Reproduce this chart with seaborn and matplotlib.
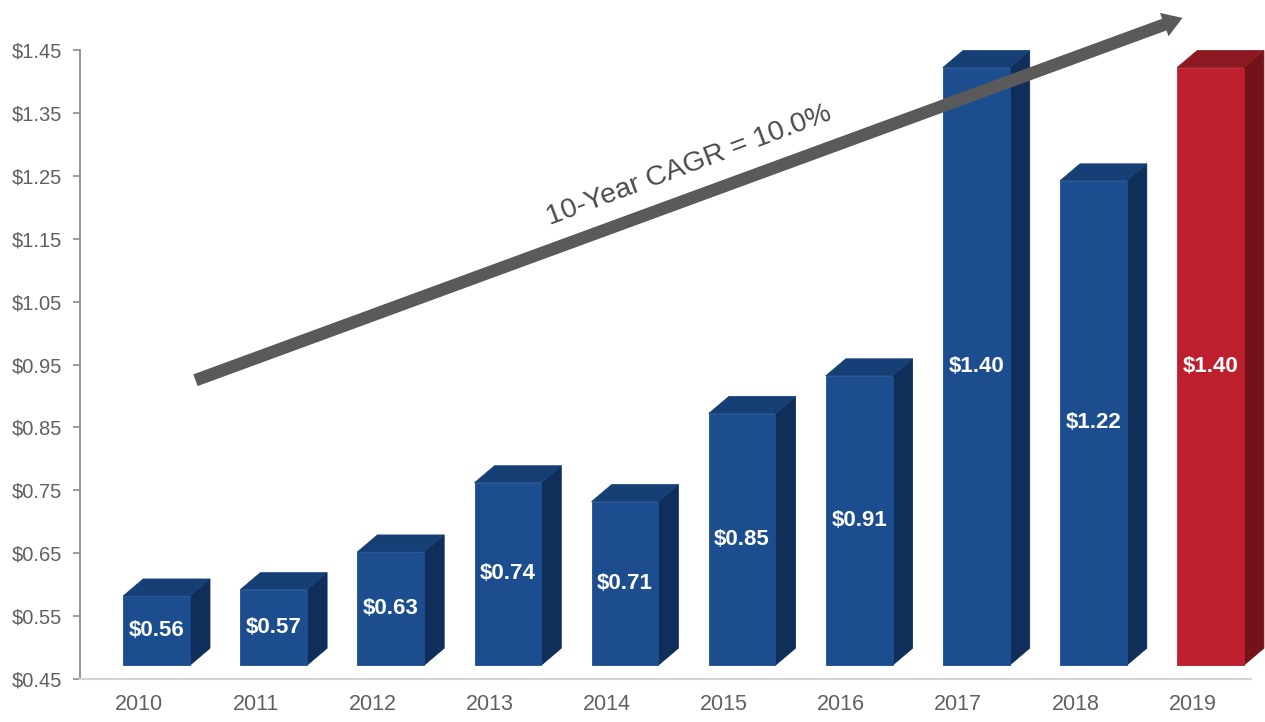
import matplotlib
matplotlib.use("Agg")
import matplotlib.pyplot as plt
from matplotlib.patches import Polygon
import seaborn as sns
import pandas as pd

# Annual values
years = ["2010", "2011", "2012", "2013", "2014", "2015", "2016", "2017", "2018", "2019"]
values = [0.56, 0.57, 0.63, 0.74, 0.71, 0.85, 0.91, 1.40, 1.22, 1.40]
ytick_values = [0.45, 0.55, 0.65, 0.75, 0.85, 0.95, 1.05, 1.15, 1.25, 1.35, 1.45]
cagr_label = "10-Year CAGR = 10.0%"

# Face colours: front, top, side
blue = ("#1c4e8f", "#163f76", "#0f2f5a")
red = ("#bd1f2e", "#8c1821", "#74121a")

df = pd.DataFrame({"year": years, "value": values})

sns.set_theme(style="white")
plt.rcParams["font.family"] = ["Liberation Sans", "DejaVu Sans"]

fig = plt.figure(figsize=(12.65, 7.22), dpi=100)
ax = fig.add_axes([80 / 1265, 43 / 722, 1171 / 1265, 629 / 722])

front_colors = [red[0] if y == years[-1] else blue[0] for y in years]
sns.barplot(data=df, x="year", y="value", hue="year", palette=front_colors,
            legend=False, width=0.57, saturation=1, ax=ax, zorder=3)

ax.set_xlim(-0.5, len(years) - 0.5)
ax.set_ylim(0.45, 1.45)

# 3-D look: lift the bars off the floor, shift them right and add top/side faces
lift = 0.022
shift = 0.154
dx, dy = 0.171, 0.027
floor = 0.45 + lift

for patch, year, v in zip(ax.patches, years, values):
    cols = red if year == years[-1] else blue
    x0 = patch.get_x() + shift
    w = patch.get_width()
    x1 = x0 + w
    top = v + lift
    patch.set_x(x0)
    patch.set_y(floor)
    patch.set_height(top - floor)
    patch.set_edgecolor(cols[0])
    patch.set_linewidth(0.6)
    side = Polygon([(x1, floor), (x1, top), (x1 + dx, top + dy), (x1 + dx, floor + dy)],
                   closed=True, facecolor=cols[2], edgecolor=cols[2], lw=0.6,
                   zorder=2, clip_on=False)
    cap = Polygon([(x0, top), (x1, top), (x1 + dx, top + dy), (x0 + dx, top + dy)],
                  closed=True, facecolor=cols[1], edgecolor=cols[1], lw=0.6,
                  zorder=2, clip_on=False)
    ax.add_patch(side)
    ax.add_patch(cap)
    ax.text(x0 + w / 2, (floor + top) / 2, f"${v:.2f}", color="white",
            fontsize=16, fontweight="bold", ha="center", va="center", zorder=5)

# Axes styling
ax.set_yticks(ytick_values)
ax.set_yticklabels([f"${t:.2f}" for t in ytick_values])
ax.set_xlabel("")
ax.set_ylabel("")
ax.tick_params(axis="y", which="both", left=True, length=5, width=1.2,
               color="#8c8c8c", pad=8, labelsize=14.5, labelcolor="#606060")
ax.tick_params(axis="x", length=0, pad=11, labelsize=15.5, labelcolor="#606060")
for s in ("top", "right"):
    ax.spines[s].set_visible(False)
ax.spines["left"].set_color("#8c8c8c")
ax.spines["left"].set_linewidth(1.3)
ax.spines["bottom"].set_color("#d4d4d4")
ax.spines["bottom"].set_linewidth(1.5)
ax.grid(False)

# Growth arrow and label
ax.annotate("", xy=(8.915, 1.501), xytext=(0.486, 0.925), xycoords="data",
            annotation_clip=False,
            arrowprops=dict(arrowstyle="simple,head_length=0.7,head_width=0.9,tail_width=0.45",
                            mutation_scale=20, color="#5a5a5a", lw=0,
                            shrinkA=0, shrinkB=0),
            zorder=6)
ax.text(4.70, 1.267, cagr_label, rotation=20.5, rotation_mode="anchor",
        ha="center", va="center", fontsize=20.5, color="#4a4a4a", zorder=6)

fig.savefig("out.png", dpi=100)
